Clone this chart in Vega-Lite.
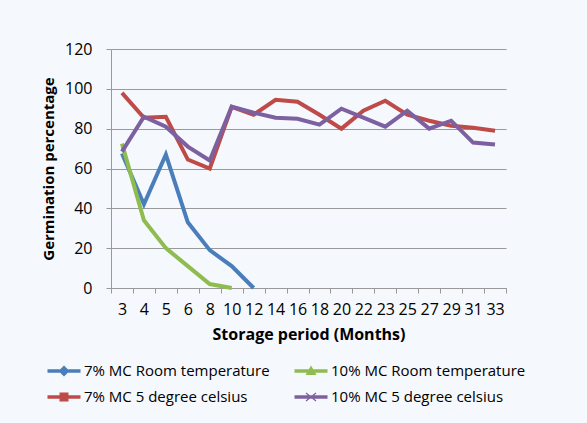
{
  "$schema": "https://vega.github.io/schema/vega-lite/v6.json",
  "width": 395,
  "height": 239,
  "autosize": {"type": "none"},
  "padding": {"left": 111, "top": 49, "right": 81, "bottom": 135},
  "background": "#f5f8fc",
  "config": {"font": "Open Sans", "view": {"stroke": null}},
  "data": {"values": [
    {"month": "3", "series": "7% MC Room temperature", "value": 67.5},
    {"month": "4", "series": "7% MC Room temperature", "value": 42},
    {"month": "5", "series": "7% MC Room temperature", "value": 67},
    {"month": "6", "series": "7% MC Room temperature", "value": 33},
    {"month": "8", "series": "7% MC Room temperature", "value": 19},
    {"month": "10", "series": "7% MC Room temperature", "value": 11},
    {"month": "12", "series": "7% MC Room temperature", "value": 0},
    {"month": "3", "series": "10% MC Room temperature", "value": 72.5},
    {"month": "4", "series": "10% MC Room temperature", "value": 34},
    {"month": "5", "series": "10% MC Room temperature", "value": 20},
    {"month": "6", "series": "10% MC Room temperature", "value": 11},
    {"month": "8", "series": "10% MC Room temperature", "value": 2},
    {"month": "10", "series": "10% MC Room temperature", "value": 0},
    {"month": "3", "series": "7% MC 5 degree celsius", "value": 98},
    {"month": "4", "series": "7% MC 5 degree celsius", "value": 85.5},
    {"month": "5", "series": "7% MC 5 degree celsius", "value": 86},
    {"month": "6", "series": "7% MC 5 degree celsius", "value": 64.5},
    {"month": "8", "series": "7% MC 5 degree celsius", "value": 60},
    {"month": "10", "series": "7% MC 5 degree celsius", "value": 91},
    {"month": "12", "series": "7% MC 5 degree celsius", "value": 87},
    {"month": "14", "series": "7% MC 5 degree celsius", "value": 94.5},
    {"month": "16", "series": "7% MC 5 degree celsius", "value": 93.5},
    {"month": "18", "series": "7% MC 5 degree celsius", "value": 87},
    {"month": "20", "series": "7% MC 5 degree celsius", "value": 80},
    {"month": "22", "series": "7% MC 5 degree celsius", "value": 89},
    {"month": "23", "series": "7% MC 5 degree celsius", "value": 94},
    {"month": "25", "series": "7% MC 5 degree celsius", "value": 87},
    {"month": "27", "series": "7% MC 5 degree celsius", "value": 84},
    {"month": "29", "series": "7% MC 5 degree celsius", "value": 81.5},
    {"month": "31", "series": "7% MC 5 degree celsius", "value": 80.5},
    {"month": "33", "series": "7% MC 5 degree celsius", "value": 79},
    {"month": "3", "series": "10% MC 5 degree celsius", "value": 68.5},
    {"month": "4", "series": "10% MC 5 degree celsius", "value": 86},
    {"month": "5", "series": "10% MC 5 degree celsius", "value": 81},
    {"month": "6", "series": "10% MC 5 degree celsius", "value": 71},
    {"month": "8", "series": "10% MC 5 degree celsius", "value": 64},
    {"month": "10", "series": "10% MC 5 degree celsius", "value": 91},
    {"month": "12", "series": "10% MC 5 degree celsius", "value": 88},
    {"month": "14", "series": "10% MC 5 degree celsius", "value": 85.5},
    {"month": "16", "series": "10% MC 5 degree celsius", "value": 85},
    {"month": "18", "series": "10% MC 5 degree celsius", "value": 82},
    {"month": "20", "series": "10% MC 5 degree celsius", "value": 90},
    {"month": "22", "series": "10% MC 5 degree celsius", "value": 85.5},
    {"month": "23", "series": "10% MC 5 degree celsius", "value": 81},
    {"month": "25", "series": "10% MC 5 degree celsius", "value": 89},
    {"month": "27", "series": "10% MC 5 degree celsius", "value": 80},
    {"month": "29", "series": "10% MC 5 degree celsius", "value": 84},
    {"month": "31", "series": "10% MC 5 degree celsius", "value": 73},
    {"month": "33", "series": "10% MC 5 degree celsius", "value": 72}
  ]},
  "mark": {"type": "line", "strokeWidth": 4, "interpolate": "linear"},
  "encoding": {
    "x": {
      "field": "month", "type": "ordinal",
      "sort": ["3","4","5","6","8","10","12","14","16","18","20","22","23","25","27","29","31","33"],
      "scale": {"type": "band", "paddingInner": 0, "paddingOuter": 0},
      "axis": {
        "title": "Storage period (Months)",
        "titleFontSize": 16, "titleFontWeight": "bold", "titleColor": "#000", "titlePadding": 9,
        "labelAngle": 0, "labelFontSize": 16, "labelColor": "#000", "labelPadding": 8,
        "tickBand": "extent", "tickSize": 5, "tickColor": "#999", "domainColor": "#999",
        "grid": false
      }
    },
    "y": {
      "field": "value", "type": "quantitative",
      "scale": {"domain": [0, 120], "nice": false},
      "axis": {
        "title": "Germination percentage",
        "values": [0, 20, 40, 60, 80, 100, 120],
        "titleFontSize": 15, "titleFontWeight": "bold", "titleColor": "#000", "titlePadding": 8,
        "labelFontSize": 16, "labelColor": "#000", "labelPadding": 14,
        "tickSize": 5, "tickColor": "#999", "domainColor": "#999",
        "grid": true, "gridColor": "#999", "gridWidth": 1
      }
    },
    "color": {
      "field": "series", "type": "nominal",
      "scale": {
        "domain": ["7% MC Room temperature", "10% MC Room temperature", "7% MC 5 degree celsius", "10% MC 5 degree celsius"],
        "range": ["#4a7ebb", "#8fbc4f", "#be4b48", "#7d60a0"]
      },
      "legend": {
        "title": null,
        "orient": "none",
        "legendX": -57,
        "legendY": 312,
        "columns": 2,
        "direction": "horizontal",
        "columnPadding": 24,
        "rowPadding": 8,
        "symbolSize": 400,
        "labelOffset": 10,
        "labelFontSize": 15,
        "labelColor": "#000",
        "labelLimit": 300,
        "encode": {
          "symbols": {
            "update": {
              "shape": {"signal": "'M-1.65,-0.18L1.65,-0.18L1.65,0.18L-1.65,0.18Z ' + (datum.value === '7% MC Room temperature' ? 'M0,-0.55L0.55,0L0,0.55L-0.55,0Z' : datum.value === '10% MC Room temperature' ? 'M0,-0.55L0.55,0.4L-0.55,0.4Z' : datum.value === '7% MC 5 degree celsius' ? 'M-0.45,-0.45L0.45,-0.45L0.45,0.45L-0.45,0.45Z' : 'M-0.54,-0.35L-0.46,-0.45L0.54,0.35L0.46,0.45Z M0.54,-0.35L-0.46,0.45L-0.54,0.35L0.46,-0.45Z')"},
              "fill": {"signal": "scale('color', datum.value)"},
              "stroke": {"value": "transparent"},
              "strokeWidth": {"value": 0},
              "opacity": {"value": 1}
            }
          }
        }
      }
    }
  }
}
